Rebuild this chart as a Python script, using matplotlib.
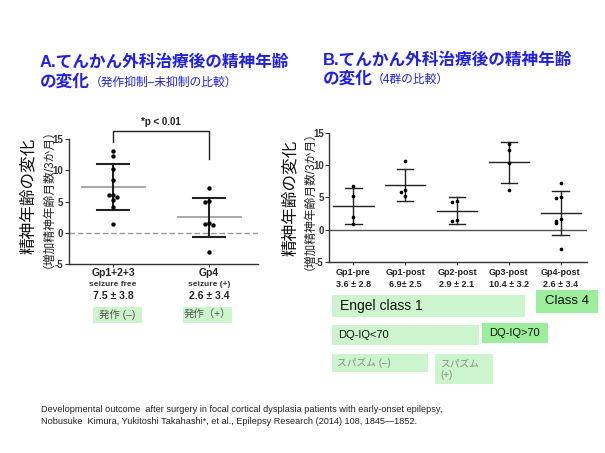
import matplotlib.pyplot as plt
from matplotlib.patches import Rectangle

plt.rcParams['font.family'] = ['Liberation Sans', 'Noto Sans CJK JP', 'DejaVu Sans']

W, H = 605, 453

# panel A: seizure free vs seizure (+)
a_labels = ['Gp1+2+3', 'Gp4']
a_sub = ['seizure free', 'seizure (+)']
a_stats = ['7.5 \u00b1 3.8', '2.6 \u00b1 3.4']
a_points = [
    [13.1, 12.4, 10.2, 8.4, 6.1, 6.0, 5.8, 5.3, 4.2, 1.4],
    [7.2, 5.1, 4.9, 1.5, 1.4, 1.3, -3.0],
]
a_mean = [7.3, 2.5]
a_sd = [3.7, 3.1]
a_boxes = ['発作 (–)', '発作（+）']

# panel B: 4 groups
b_labels = ['Gp1-pre', 'Gp1-post', 'Gp2-post', 'Gp3-post', 'Gp4-post']
b_stats = ['3.6 \u00b1 2.8', '6.9\u00b1 2.5', '2.9 \u00b1 2.1', '10.4 \u00b1 3.2', '2.6 \u00b1 3.4']
b_points = [
    [6.8, 5.3, 2.0, 0.8],
    [10.7, 6.2, 5.8, 5.3],
    [4.45, 4.25, 1.5, 1.35],
    [13.3, 12.4, 10.3, 6.1],
    [7.2, 5.1, 4.9, 1.6, 1.3, 1.1, -3.0],
]
b_mean = [3.7, 7.0, 2.9, 10.5, 2.6]
b_sd = [2.8, 2.5, 2.1, 3.2, 3.4]

yticks = [-5, 0, 5, 10, 15]
blue = '#1f1fe6'


def px(x, y):
    return x / W, 1 - y / H


def spread(vals, thr, step):
    # simple beeswarm: push close values sideways
    placed, offs = [], []
    for v in vals:
        k = sum(1 for p in placed if abs(p - v) < thr)
        offs.append([0, -1, 1, -2, 2, -3, 3][k] * step)
        placed.append(v)
    return offs


def box(x0, y0, x1, y1, color):
    fig.patches.append(Rectangle(px(x0, y1), (x1 - x0) / W, (y1 - y0) / H,
                                 transform=fig.transFigure, color=color, lw=0))


def under(ax, i, text, dy, **kw):
    # text below the x axis, dy pixels under the spine
    ax.annotate(text, xy=(i, 0), xycoords=('data', 'axes fraction'),
                xytext=(0, -dy * 0.72), textcoords='offset points', ha='center', va='center',
                fontweight='bold', **kw)


def style_axes(ax):
    for s in ['top', 'right']:
        ax.spines[s].set_visible(False)
    for s in ['left', 'bottom']:
        ax.spines[s].set_color('#333333')
        ax.spines[s].set_linewidth(1)
    ax.set_ylim(-5, 15)
    ax.set_yticks(yticks)
    ax.set_yticklabels([str(t) for t in yticks], fontsize=7, fontweight='bold', color='#333333')
    ax.tick_params(axis='y', length=3, width=0.8, pad=1, colors='#333333')
    ax.tick_params(axis='x', length=2, width=0.8, colors='#333333')


fig = plt.figure(figsize=(W / 100, H / 100), dpi=100)
fig.patch.set_facecolor('white')

# ---- panel A ----
axA = fig.add_axes([69 / W, 1 - 264 / H, (258 - 69) / W, (264 - 139.3) / H])
style_axes(axA)
axA.set_xlim(-0.458, 1.51)
axA.set_xticks(range(len(a_labels)))
axA.set_xticklabels([''] * len(a_labels))
axA.axhline(0, color='#999999', lw=1, ls=(0, (4, 2)))
for i, pts in enumerate(a_points):
    offs = spread(pts, 0.5, 0.04)
    axA.scatter([i + o for o in offs], pts, s=10, color='black', zorder=3, lw=0)
    axA.plot([i - 0.32, i + 0.33], [a_mean[i]] * 2, color='#a0a0a0', lw=1.3, zorder=2)
    lo, hi = a_mean[i] - a_sd[i], a_mean[i] + a_sd[i]
    axA.plot([i, i], [lo, hi], color='#222222', lw=1.5, zorder=2)
    for y in (lo, hi):
        axA.plot([i - 0.17, i + 0.17], [y, y], color='#222222', lw=1.5, zorder=2)
    under(axA, i, a_labels[i], 9.5, fontsize=7.5, color='#222222')
    under(axA, i, a_sub[i], 20.5, fontsize=6, color='#333333')
    under(axA, i, a_stats[i], 32, fontsize=7.5, color='#222222')

# significance bracket
axA.plot([0, 0, 1, 1], [14.5, 16.26, 16.26, 11.9], color='#222222', lw=1, clip_on=False)
axA.text(0.5, 17.75, '*p < 0.01', ha='center', va='center', fontsize=7, fontweight='bold',
         color='#222222')

for (x0, x1), t in zip([(93, 142), (183, 232)], a_boxes):
    box(x0, 306.7, x1, 323.3, '#cdf5cd')
    fig.text(*px((x0 + x1) / 2, 315), t, ha='center', va='center', fontsize=7.5,
             color='#555555')

# ---- panel B ----
axB = fig.add_axes([329.3 / W, 1 - 261.7 / H, (586.7 - 329.3) / W, (261.7 - 133.3) / H])
style_axes(axB)
axB.set_xlim(-0.463, 4.5)
axB.set_xticks(range(len(b_labels)))
axB.set_xticklabels([''] * len(b_labels))
axB.axhline(0, color='#555555', lw=1)
for i, pts in enumerate(b_points):
    offs = spread(pts, 0.5, 0.09)
    axB.scatter([i + o for o in offs], pts, s=7, color='black', zorder=3, lw=0)
    axB.plot([i - 0.39, i + 0.39], [b_mean[i]] * 2, color='#222222', lw=1, zorder=2)
    lo, hi = b_mean[i] - b_sd[i], b_mean[i] + b_sd[i]
    axB.plot([i, i], [lo, hi], color='#222222', lw=1, zorder=2)
    for y in (lo, hi):
        axB.plot([i - 0.16, i + 0.16], [y, y], color='#222222', lw=1, zorder=2)
    under(axB, i, b_labels[i], 10.5, fontsize=6.5, color='#222222')
    under(axB, i, b_stats[i], 22.5, fontsize=6.5, color='#222222')

# ---- titles ----
for x, y1, y2, head, small, xs in [
        (40, 61.7, 81.7, 'A.てんかん外科治療後の精神年齢', '（発作抑制–未抑制の比較）', 90),
        (323, 60, 79.3, 'B.てんかん外科治療後の精神年齢', '（4群の比較）', 371.7)]:
    fig.text(*px(x, y1), head, ha='left', va='center', fontsize=12, fontweight='bold', color=blue)
    fig.text(*px(x, y2), 'の変化', ha='left', va='center', fontsize=12, fontweight='bold', color=blue)
    fig.text(*px(xs, y2 + 1), small, ha='left', va='center', fontsize=8.5, color=blue)

# ---- y labels ----
for xb, xsm, yc in [(28, 43, 196), (290, 304, 198)]:
    fig.text(*px(xb, yc), '精神年齢の変化', rotation=90, ha='center', va='center',
             fontsize=12, color='#111111')
    fig.text(*px(xsm, yc - 3), '（増加精神年齢月数/3か月）', rotation=90, ha='center',
             va='center', fontsize=8.5, color='#222222')

# ---- group boxes ----
box(331.7, 295, 525, 316.7, '#cdf5cd')
fig.text(*px(340, 306), 'Engel class 1', ha='left', va='center', fontsize=10, color='#111111')
box(536, 290, 598, 313.3, '#9cee9c')
fig.text(*px(567, 301.5), 'Class 4', ha='center', va='center', fontsize=9.5, color='#111111')
box(331.7, 325, 479.3, 345, '#cdf5cd')
fig.text(*px(338, 335), 'DQ-IQ<70', ha='left', va='center', fontsize=8, color='#111111')
box(481.7, 323.3, 547.7, 343.3, '#9cee9c')
fig.text(*px(514.7, 333.3), 'DQ-IQ>70', ha='center', va='center', fontsize=8, color='#111111')
box(331.7, 354, 428.3, 371.7, '#cdf5cd')
fig.text(*px(337, 362.5), 'スパズム (–)', ha='left', va='center', fontsize=7, color='#888888')
box(435, 354, 492.7, 384, '#cdf5cd')
fig.text(*px(440, 369), 'スパズム\n(+)', ha='left', va='center', fontsize=7, color='#888888',
         linespacing=1.2)

# ---- reference ----
fig.text(*px(40.7, 409), 'Developmental outcome  after surgery in focal cortical dysplasia patients '
         'with early-onset epilepsy,', ha='left', va='center', fontsize=6.6, color='#222222')
fig.text(*px(40.7, 422), 'Nobusuke  Kimura, Yukitoshi Takahashi*, et al., Epilepsy Research (2014) '
         '108, 1845\u20141852.', ha='left', va='center', fontsize=6.6, color='#222222')

fig.savefig('out.png', dpi=100, facecolor='white')
